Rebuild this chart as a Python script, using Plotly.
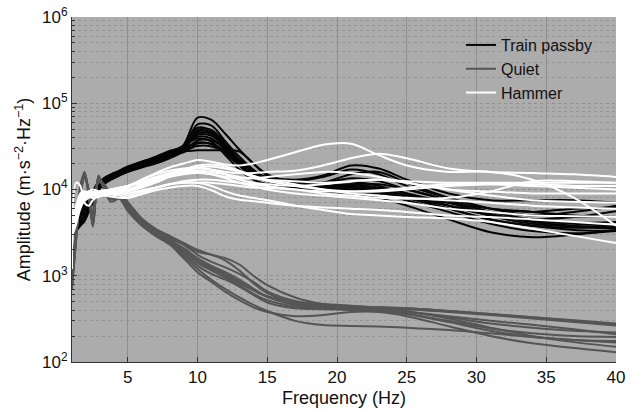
import plotly.graph_objects as go

FREQ = [1, 1.3, 1.6, 1.9, 2.2, 2.5, 2.9, 3.3, 3.8, 4.4, 5,
        6, 7, 8, 9, 10, 11, 12, 13, 14, 15, 17, 19, 21, 23, 25, 28, 31, 34, 37, 40]

TRAIN_PASSBY = [
    [3500, 4200, 5000, 5200, 6500, 9000, 11500, 12500, 13500, 15000, 16500,
     19000, 21500, 25000, 33000, 68000, 64000, 44000, 29000, 20000, 14500, 11000, 10500, 11000, 10000, 8500, 6500, 5000, 4200, 3800, 3600],
    [3000, 3800, 4600, 4500, 6000, 9500, 12000, 12500, 14000, 15500, 17000,
     19500, 22000, 26000, 32000, 57000, 55000, 36000, 24000, 17000, 13500, 12500, 14000, 17000, 15000, 11000, 8000, 6000, 5000, 5500, 6500],
    [3800, 4500, 5500, 6500, 7500, 8500, 11000, 13500, 15000, 16000, 18000,
     21000, 23000, 26000, 31000, 52000, 48000, 32000, 21000, 15000, 12500, 12000, 11000, 10500, 9500, 8000, 6000, 4500, 3800, 3400, 3300],
    [3200, 3600, 4200, 5000, 6500, 8000, 10500, 12500, 14500, 16000, 17000,
     19000, 21000, 24000, 29000, 47000, 46000, 33000, 22000, 16000, 13000, 12500, 12000, 13500, 12500, 10000, 7500, 5500, 4500, 4000, 3800],
    [4000, 4800, 5800, 6800, 7500, 9000, 10500, 12000, 13500, 15000, 16500,
     18500, 21000, 25000, 30000, 43000, 42000, 31000, 22000, 16500, 13500, 11500, 10500, 10000, 9000, 7500, 5500, 4000, 3300, 3100, 3300],
    [3000, 3300, 3800, 4300, 5500, 7500, 10000, 12000, 14000, 16500, 18500,
     21000, 24000, 28000, 31000, 41000, 39000, 29000, 20000, 15000, 13000, 12000, 12000, 12500, 11000, 9000, 6500, 5000, 4500, 4800, 5600],
    [3500, 4300, 5000, 5800, 6500, 8000, 10000, 11500, 13000, 14500, 16000,
     18500, 21000, 24000, 28000, 37000, 37000, 30000, 22000, 16000, 13000, 11000, 10000, 9500, 9000, 8000, 6500, 5500, 5000, 4800, 4800],
    [2800, 3300, 4000, 4800, 6200, 9000, 12000, 13500, 14500, 15500, 17000,
     19500, 22000, 25000, 27000, 34000, 34000, 28000, 21000, 16000, 14000, 13000, 14500, 19000, 17500, 13000, 9000, 7500, 7500, 7500, 7000],
    [3300, 4000, 4700, 5300, 6000, 8000, 11000, 13000, 14000, 15000, 16500,
     19000, 22000, 26000, 28000, 32000, 31500, 27000, 20000, 15000, 12500, 10500, 10000, 10500, 9500, 8000, 6000, 4500, 3800, 3600, 3800],
    [3600, 4400, 5200, 6200, 7500, 9000, 11000, 12500, 14000, 15500, 17000,
     20000, 23000, 26000, 27500, 28500, 28500, 28500, 27500, 20000, 15000, 12000, 11000, 11000, 10000, 8500, 7000, 6000, 5500, 5000, 4800],
    [3100, 3700, 4300, 4600, 5500, 7000, 9500, 12000, 14000, 16000, 18000,
     20500, 23000, 27000, 32000, 39000, 36000, 25000, 17000, 13000, 11500, 10000, 9500, 9000, 8000, 6500, 4500, 3200, 2800, 3000, 3400],
    [3400, 4100, 4800, 5800, 7000, 9500, 11500, 13000, 14000, 15000, 16000,
     18000, 20000, 23000, 28000, 45000, 44000, 30000, 19000, 14000, 12500, 11500, 12000, 15000, 16000, 12000, 8000, 6000, 5500, 6000, 6200],
    [2900, 3400, 4000, 4500, 6000, 8500, 11500, 13500, 15000, 16500, 18000,
     20000, 22000, 25000, 29000, 35000, 33500, 26000, 19000, 14500, 12500, 11000, 10500, 11500, 11500, 10000, 7500, 5000, 4000, 3700, 3500],
    [3700, 4500, 5400, 6400, 7500, 9000, 10500, 12000, 13500, 15000, 17000,
     19500, 22000, 25000, 30000, 49000, 49000, 34000, 22000, 16000, 13500, 12000, 11000, 11500, 10500, 9000, 7000, 5200, 4300, 4100, 4200],
]

QUIET = [
    [900, 3000, 9500, 14500, 9500, 4500, 12500, 11000, 8500, 9500, 6800,
     4400, 3300, 2700, 2300, 1900, 1750, 1600, 1350, 1000, 780, 560, 470, 440, 430, 420, 390, 360, 330, 300, 270],
    [1100, 3500, 11000, 15500, 8500, 3800, 13500, 10500, 7800, 8800, 6200,
     4100, 3200, 2600, 2000, 1500, 1250, 1050, 850, 680, 570, 460, 430, 420, 410, 380, 330, 280, 250, 230, 220],
    [700, 2600, 8500, 13500, 10000, 5000, 12000, 11500, 9000, 9200, 7200,
     4600, 3300, 2500, 1800, 1300, 1050, 900, 750, 600, 490, 420, 410, 400, 390, 360, 300, 245, 215, 200, 195],
    [1000, 3300, 10500, 16000, 9000, 3700, 14500, 10000, 7200, 7800, 5600,
     3800, 2900, 2300, 1600, 1100, 850, 650, 520, 430, 380, 340, 350, 380, 380, 340, 260, 200, 165, 145, 130],
    [800, 2900, 9000, 14000, 9800, 4800, 13000, 11200, 8200, 8600, 6300,
     4300, 3400, 2800, 2300, 1750, 1450, 1250, 1050, 850, 660, 510, 455, 435, 420, 410, 380, 350, 320, 290, 265],
    [1100, 3400, 10800, 15200, 9200, 4200, 14000, 10800, 8000, 8400, 6000,
     4000, 3000, 2400, 1700, 1200, 900, 700, 560, 460, 390, 300, 268, 262, 258, 250, 235, 215, 195, 180, 168],
    [950, 3100, 10000, 15000, 8800, 3900, 12800, 10600, 7900, 9000, 6900,
     4600, 3500, 2900, 2400, 2000, 1750, 1500, 1150, 820, 630, 490, 450, 440, 430, 390, 320, 250, 200, 170, 150],
    [850, 2800, 9200, 14200, 9400, 4400, 13800, 11000, 8300, 8200, 5900,
     3900, 3100, 2500, 1900, 1400, 1150, 950, 780, 620, 520, 440, 420, 410, 400, 380, 340, 300, 270, 240, 210],
    [1050, 3300, 10200, 14800, 9000, 4100, 13200, 10400, 7700, 8000, 6300,
     4400, 3300, 2600, 2100, 1600, 1300, 1100, 900, 710, 570, 470, 440, 420, 400, 360, 290, 230, 195, 180, 175],
    [750, 2700, 8800, 13800, 9700, 4600, 12400, 11400, 8700, 9400, 6600,
     4100, 2900, 2400, 2000, 1500, 1200, 1000, 820, 680, 580, 500, 470, 450, 430, 420, 390, 360, 330, 305, 280],
]

HAMMER = [
    [2500, 6000, 9000, 9500, 8500, 8000, 8500, 9000, 9500, 10000, 10500,
     13000, 15500, 18000, 20000, 22000, 21000, 19500, 19000, 20000, 22000, 27000, 33000, 34000, 25000, 19000, 16000, 16000, 13000, 8000, 3800],
    [3500, 5000, 7000, 8500, 9000, 9500, 9000, 8500, 9000, 9500, 9500,
     11000, 13000, 15000, 16500, 17500, 17000, 16000, 15500, 15500, 16000, 16500, 19000, 23000, 26000, 23000, 17500, 16000, 15500, 15000, 14000],
    [4000, 5500, 7500, 9000, 9500, 9000, 8500, 8800, 9200, 9000, 8500,
     9500, 10500, 11500, 12500, 13000, 13000, 12500, 12000, 11500, 11000, 10000, 9000, 8500, 8000, 7800, 8000, 9500, 12500, 12500, 12000],
    [3000, 4500, 6500, 8000, 8500, 9000, 9500, 9800, 10000, 10500, 11000,
     12000, 13500, 15000, 16000, 16500, 16000, 15000, 14000, 13500, 13000, 12500, 12000, 12500, 13000, 12500, 12000, 12000, 12000, 12000, 12000],
    [4500, 6500, 8500, 9500, 9000, 8500, 9000, 9500, 10000, 10000, 9500,
     10500, 12000, 14000, 16000, 18000, 18500, 17500, 16000, 14000, 12500, 11000, 10000, 9500, 9500, 10000, 11000, 11500, 11500, 11000, 11000],
    [1200, 12000, 11000, 7000, 6500, 7500, 8500, 9000, 8800, 8500, 8000,
     9000, 10500, 11500, 12000, 12000, 11000, 9500, 8500, 8000, 7500, 6500, 5800, 5200, 5000, 4800, 4600, 4200, 3500, 2900, 2400],
    [3200, 4800, 6800, 8500, 9000, 8800, 8600, 9000, 9500, 9800, 10000,
     11500, 13000, 14500, 15500, 16000, 15000, 13500, 12000, 11000, 10000, 9000, 8500, 8000, 7500, 7000, 6000, 5500, 5000, 4900, 4800],
    [3800, 5200, 7000, 8000, 8200, 8000, 8200, 8500, 8300, 8000, 8000,
     8800, 9800, 10500, 11000, 11000, 9800, 8300, 7600, 7300, 7000, 6500, 6200, 6000, 5800, 5500, 5000, 4800, 4500, 4200, 3900],
    [2800, 4000, 6000, 7500, 8000, 8500, 9200, 9700, 10000, 10500, 11000,
     13000, 15000, 16500, 17500, 18000, 17000, 15000, 13000, 12000, 11500, 11000, 11500, 12500, 13000, 12000, 10000, 8500, 7500, 7200, 7000],
    [3500, 5000, 7200, 8500, 9500, 10000, 9500, 9000, 8800, 9000, 9500,
     11000, 12500, 14000, 15000, 15500, 15000, 14000, 13500, 13500, 14000, 15000, 16000, 15500, 14000, 12000, 10000, 9500, 9000, 9000, 9000],
    [4200, 6000, 8000, 9000, 8800, 8500, 8700, 9200, 9800, 10500, 11000,
     12500, 14000, 15500, 17000, 19000, 19500, 18500, 16500, 14500, 13000, 11500, 10000, 9000, 8500, 8000, 7500, 7000, 6500, 6200, 6000],
    [3300, 4600, 6500, 8000, 8500, 8800, 9000, 9200, 9500, 9500, 9000,
     9800, 10500, 11500, 12000, 12000, 12000, 11500, 11000, 10500, 10500, 10000, 9500, 9500, 9800, 10500, 11500, 11500, 11000, 10500, 10000],
]

X_TICKS = [5, 10, 15, 20, 25, 30, 35, 40]
Y_TICKS = [1e2, 1e3, 1e4, 1e5, 1e6]
Y_TICK_LABELS = ["10<sup>2</sup>", "10<sup>3</sup>", "10<sup>4</sup>", "10<sup>5</sup>", "10<sup>6</sup>"]

GROUPS = [
    ("Train passby", TRAIN_PASSBY, "#050505"),
    ("Quiet", QUIET, "#555555"),
    ("Hammer", HAMMER, "#ffffff"),
]

fig = go.Figure()
for name, series, color in GROUPS:
    for i, vals in enumerate(series):
        fig.add_trace(go.Scatter(
            x=FREQ, y=vals, mode="lines", name=name, legendgroup=name,
            showlegend=(i == 0),
            line=dict(color=color, width=2, shape="spline", smoothing=0.9),
            hoverinfo="skip",
        ))

FONT = "Liberation Sans, Arial, sans-serif"
fig.update_layout(
    width=643, height=411,
    margin=dict(l=72, r=27, t=17, b=49),
    paper_bgcolor="#ffffff",
    plot_bgcolor="#acacac",
    font=dict(family=FONT, size=16, color="#111111"),
    showlegend=True,
    legend=dict(
        x=0.715, xanchor="left", y=0.968, yanchor="top",
        bgcolor="rgba(0,0,0,0)", borderwidth=0,
        font=dict(family=FONT, size=16, color="#111111"),
        itemwidth=30, tracegroupgap=0,
    ),
)
fig.update_xaxes(
    range=[1, 40], tickvals=X_TICKS, ticks="inside", ticklen=5, tickcolor="#333333",
    showgrid=True, gridcolor="#8f8f8f", gridwidth=1,
    showline=True, linecolor="#333333", linewidth=1, zeroline=False,
    tickfont=dict(size=17), ticklabelstandoff=0, automargin=False,
    title=dict(text="Frequency (Hz)", font=dict(size=18), standoff=4),
)
fig.update_yaxes(
    type="log", range=[2, 6], tickvals=Y_TICKS, ticktext=Y_TICK_LABELS,
    ticks="inside", ticklen=5, tickcolor="#333333",
    showgrid=True, gridcolor="#8f8f8f", gridwidth=1, griddash="dot",
    minor=dict(dtick="D1", ticks="inside", ticklen=3, tickcolor="#333333",
               showgrid=True, gridcolor="#959595", griddash="dot"),
    showline=True, linecolor="#333333", linewidth=1, zeroline=False,
    tickfont=dict(size=17), automargin=False,
    title=dict(text="Amplitude (m·s<sup>−2</sup>·Hz<sup>−1</sup>)", font=dict(size=18), standoff=6),
)

fig.write_html("out.html")
